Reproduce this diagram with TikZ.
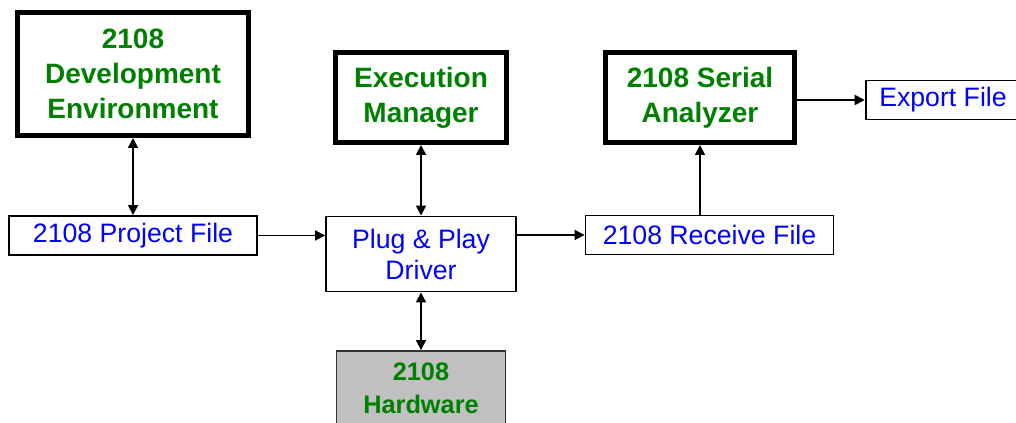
\documentclass[tikz,border=0pt]{standalone}
\usepackage{fontspec}
\setmainfont{Liberation Sans}
\usepackage{tikz}
\usetikzlibrary{positioning,arrows.meta}
\definecolor{lblgreen}{RGB}{0,128,0}
\definecolor{lblblue}{RGB}{0,0,255}
\definecolor{hwgray}{RGB}{192,192,192}
\tikzstyle{module}    = [rectangle, draw=black, line width=3.75pt, fill=white, text=lblgreen, font=\bfseries\fontsize{21}{26.25}\selectfont, align=center, inner sep=0pt]
\tikzstyle{datafile}  = [rectangle, draw=black, line width=1.4pt, fill=white, text=lblblue, font=\fontsize{20}{23.25}\selectfont, align=center, inner sep=0pt]
\tikzstyle{hwbox}     = [rectangle, draw=black!80, line width=1.4pt, fill=hwgray, text=lblgreen, font=\bfseries\fontsize{19}{24.75}\selectfont, align=center, inner sep=0pt]
\tikzstyle{arrow}     = [line width=1.3pt,->,>={Triangle[length=7.5pt,width=7.5pt]}]

\begin{document}
\begin{tikzpicture}[x=0.75pt,y=-0.75pt,
		biarrow/.style={arrow,<->}]
	\useasboundingbox (0,0) rectangle (1016,423);
	\clip (0,0) rectangle (1016,423);

	% top row
	\node[module, minimum width=173.25pt, minimum height=92.25pt] (devenv) at (133,74) {2108\\Development\\Environment};
	\node[module, minimum width=128.25pt, minimum height=67.5pt] (execmgr) at (421,97.5) {Execution\\Manager};
	\node[module, minimum width=141.75pt, minimum height=67.5pt] (serial) at (700,97.5) {2108 Serial\\Analyzer};
	\node[datafile, minimum width=116pt, minimum height=29.25pt] (export) at (943,100) {Export File};

	% middle row
	\node[datafile, minimum width=186pt, minimum height=29.25pt] (project) at (133,235.5) {2108 Project File};
	\node[datafile, minimum width=142.5pt, minimum height=56.25pt] (driver) at (421,254) {Plug \& Play\\Driver};
	\node[datafile, minimum width=186pt, minimum height=29.25pt] (receive) at (709.5,235) {2108 Receive File};

	% bottom
	\node[hwbox, minimum width=126.75pt, minimum height=56.25pt] (hardware) at (421,388.5) {2108\\Hardware};

	\draw[biarrow] (devenv) -- (project);
	\draw[biarrow] (execmgr) -- (driver);
	\draw[biarrow] (driver) -- (hardware);
	\draw[arrow] (project.east) -- (project.east -| driver.west);
	\draw[arrow] (driver.east |- receive.west) -- (receive.west);
	\draw[arrow] (receive.north -| serial.south) -- (serial.south);
	\draw[arrow] (serial.east |- export.west) -- (export.west);
\end{tikzpicture}
\end{document}
